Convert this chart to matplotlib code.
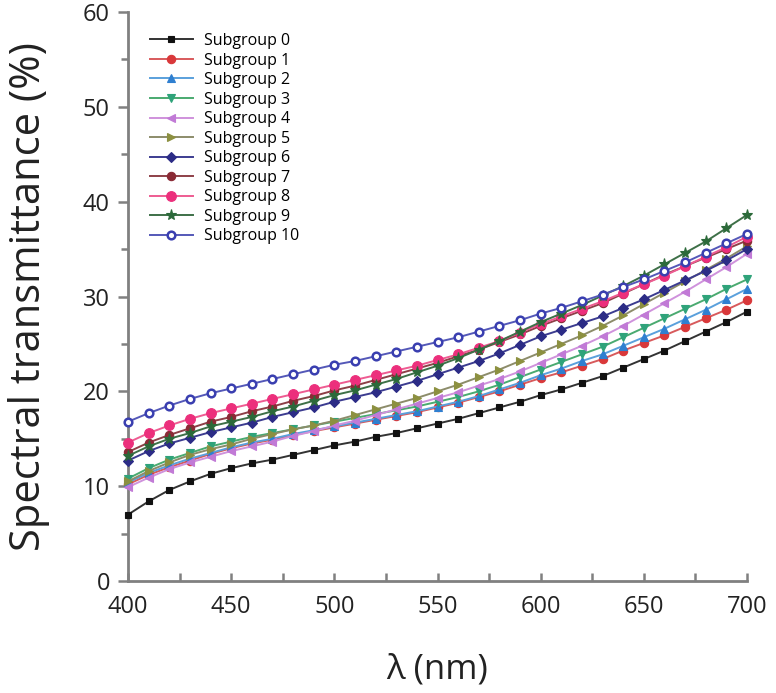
import matplotlib
matplotlib.use("Agg")
import matplotlib.pyplot as plt
from matplotlib.ticker import MultipleLocator

plt.rcParams['font.family'] = ['Open Sans', 'DejaVu Sans']

wavelength = list(range(400, 701, 10))

s0 = [7.0, 8.4, 9.6, 10.5, 11.3, 11.9, 12.4, 12.8, 13.3, 13.8, 14.3, 14.7, 15.2, 15.6, 16.1, 16.6,
      17.1, 17.7, 18.3, 18.9, 19.6, 20.2, 20.9, 21.6, 22.5, 23.4, 24.3, 25.3, 26.3, 27.3, 28.4]
s1 = [10.2, 11.2, 12.0, 12.7, 13.4, 14.0, 14.5, 14.9, 15.4, 15.8, 16.2, 16.6, 17.0, 17.4, 17.8, 18.3,
      18.8, 19.4, 20.0, 20.7, 21.4, 22.0, 22.7, 23.4, 24.3, 25.1, 25.9, 26.8, 27.7, 28.6, 29.6]
s2 = [10.4, 11.4, 12.2, 12.9, 13.5, 14.1, 14.6, 15.0, 15.5, 15.9, 16.3, 16.7, 17.1, 17.5, 17.9, 18.4,
      18.9, 19.5, 20.2, 20.9, 21.7, 22.4, 23.2, 23.9, 24.8, 25.7, 26.6, 27.6, 28.6, 29.7, 30.8]
s3 = [10.8, 11.9, 12.8, 13.5, 14.2, 14.7, 15.2, 15.6, 16.0, 16.4, 16.8, 17.2, 17.6, 18.0, 18.4, 18.9,
      19.4, 20.0, 20.7, 21.5, 22.3, 23.1, 23.9, 24.7, 25.7, 26.7, 27.7, 28.7, 29.7, 30.8, 31.8]
s4 = [9.9, 10.9, 11.8, 12.5, 13.1, 13.7, 14.2, 14.7, 15.3, 15.8, 16.4, 16.9, 17.5, 18.1, 18.7, 19.3,
      19.9, 20.6, 21.3, 22.1, 23.0, 23.9, 24.8, 25.8, 26.9, 28.1, 29.3, 30.5, 31.8, 33.1, 34.5]
s5 = [10.5, 11.6, 12.5, 13.3, 13.9, 14.4, 15.0, 15.5, 16.0, 16.4, 16.9, 17.5, 18.1, 18.7, 19.3, 20.0,
      20.7, 21.5, 22.3, 23.2, 24.1, 25.0, 25.9, 26.9, 28.0, 29.2, 30.4, 31.6, 32.8, 34.0, 35.3]
s6 = [12.7, 13.7, 14.5, 15.1, 15.7, 16.2, 16.7, 17.3, 17.8, 18.3, 18.9, 19.4, 19.9, 20.5, 21.1, 21.8,
      22.5, 23.2, 24.0, 24.9, 25.8, 26.5, 27.2, 27.9, 28.8, 29.7, 30.7, 31.7, 32.7, 33.8, 35.0]
s7 = [13.6, 14.6, 15.4, 16.1, 16.8, 17.3, 17.9, 18.4, 19.0, 19.5, 20.1, 20.6, 21.2, 21.8, 22.4, 23.0,
      23.7, 24.4, 25.2, 26.0, 26.9, 27.7, 28.5, 29.3, 30.3, 31.3, 32.3, 33.2, 34.1, 35.0, 35.9]
s8 = [14.6, 15.6, 16.4, 17.1, 17.7, 18.2, 18.7, 19.2, 19.7, 20.2, 20.7, 21.2, 21.7, 22.2, 22.7, 23.3,
      23.9, 24.6, 25.3, 26.2, 27.1, 27.9, 28.7, 29.5, 30.4, 31.3, 32.2, 33.2, 34.2, 35.2, 36.3]
s9 = [13.2, 14.2, 15.0, 15.6, 16.3, 16.8, 17.3, 17.9, 18.4, 19.0, 19.6, 20.1, 20.7, 21.3, 22.0, 22.7,
      23.5, 24.4, 25.3, 26.3, 27.3, 28.2, 29.1, 30.1, 31.1, 32.2, 33.4, 34.6, 35.8, 37.2, 38.6]
s10 = [16.8, 17.7, 18.5, 19.2, 19.8, 20.3, 20.8, 21.3, 21.8, 22.3, 22.8, 23.2, 23.7, 24.2, 24.7, 25.2,
       25.7, 26.3, 26.9, 27.5, 28.2, 28.8, 29.5, 30.2, 31.0, 31.8, 32.7, 33.6, 34.6, 35.6, 36.6]

labels = [f"Subgroup {i}" for i in range(11)]
series = [s0, s1, s2, s3, s4, s5, s6, s7, s8, s9, s10]
colors = ['#111111', '#d9383a', '#2f7fd0', '#2fa37a', '#c17ad6', '#8c9040',
          '#2c2c86', '#8a2a35', '#ec2f7c', '#2c6a3a', '#3a3fb0']
line_colors = ['#333333', '#d85a5c', '#5aa0dc', '#4aaa70', '#cf92dc', '#8c8c6a',
               '#3c3c90', '#8e4048', '#ee5c92', '#3e7048', '#5458b8']
markers = ['s', 'o', '^', 'v', '<', '>', 'D', 'o', 'o', '*', 'o']
msizes = [5, 6, 6, 6, 6, 6, 5, 6, 7, 8, 5.5]

fig = plt.figure(figsize=(7.76, 6.93), dpi=100)
ax = fig.add_axes([0.165, 0.1616, 0.7976, 0.8211])

for i, ys in enumerate(series):
    face = 'white' if i == 10 else colors[i]
    ax.plot(wavelength, ys, color=line_colors[i], lw=1.4, marker=markers[i],
            markersize=msizes[i], markerfacecolor=face, markeredgecolor=colors[i],
            markeredgewidth=1.8 if i == 10 else 0.8, label=labels[i], clip_on=False, zorder=3)

ax.set_xlim(400, 700)
ax.set_ylim(0, 60)
ax.xaxis.set_major_locator(MultipleLocator(50))
ax.xaxis.set_minor_locator(MultipleLocator(25))
ax.yaxis.set_major_locator(MultipleLocator(10))
ax.yaxis.set_minor_locator(MultipleLocator(5))

for side in ['top', 'right']:
    ax.spines[side].set_visible(False)
for side in ['left', 'bottom']:
    ax.spines[side].set_color('#808080')
    ax.spines[side].set_linewidth(2)

ax.tick_params(axis='x', which='both', direction='in', length=6, width=1.8, color='#808080',
               labelsize=17, pad=10, labelcolor='#222222')
ax.tick_params(axis='y', which='major', direction='out', length=7, width=1.8, color='#808080',
               labelsize=17, pad=6, labelcolor='#222222')
ax.tick_params(axis='y', which='minor', direction='out', length=5, width=1.8, color='#808080')

ax.set_xlabel('λ (nm)', fontsize=25, labelpad=24, color='#222222')
ax.set_ylabel('Spectral transmittance (%)', fontsize=30, labelpad=24, color='#222222')

leg = ax.legend(loc='upper left', bbox_to_anchor=(0.035, 0.963), frameon=False,
                fontsize=11.5, labelspacing=0.22, handlelength=2.7, handletextpad=0.7,
                borderpad=0, borderaxespad=0)

fig.savefig('out.png', dpi=100)
